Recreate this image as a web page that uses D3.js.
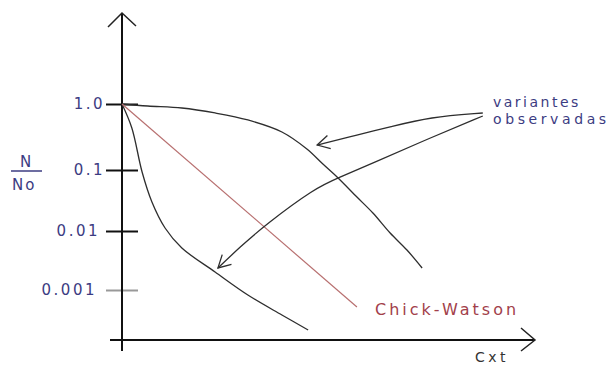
<!DOCTYPE html>
<html><head><meta charset="utf-8">
<script src="https://cdn.jsdelivr.net/npm/d3@7"></script>
<style>body{margin:0;background:#fff}svg{display:block}</style>
</head><body>
<svg id="c" width="613" height="367"></svg>
<script>
// Data (x in Cxt units 0..100, y = N/No)
const tickValues = [1, 0.1, 0.01, 0.001];
const tickLabels = ["1.0", "0.1", "0.01", "0.001"];
const upperX = [0, 6.3, 14.6, 22.7, 30.7, 39.0, 45.1, 49.0, 52.7, 57.3, 61.2, 65.4, 69.5, 73.2];
const upperY = [1, 0.933, 0.870, 0.731, 0.573, 0.377, 0.208, 0.123, 0.074, 0.036, 0.0197, 0.00925, 0.00476, 0.00236];
const lowerX = [0, 2.4, 4.9, 7.3, 10.5, 14.6, 22.7, 30.7, 39.0, 45.4];
const lowerY = [1, 0.433, 0.0928, 0.0299, 0.0112, 0.00515, 0.00202, 0.000823, 0.000377, 0.00021];
const cwX = [0, 57.3];
const cwY = [1, 0.000515];
const arrow1X = [88, 75.1, 65.4, 57.3, 47.6];
const arrow1Y = [0.731, 0.635, 0.449, 0.339, 0.239];
const arrow2X = [88, 75.1, 61.2, 52.7, 47.1, 34.9, 28.8, 23.4];
const arrow2Y = [0.658, 0.305, 0.1277, 0.074, 0.0507, 0.01254, 0.00536, 0.00236];

const svg = d3.select("#c");
const x = d3.scaleLinear().domain([0, 100]).range([122, 532]);
const y = d3.scaleLog().domain([1, 0.1, 0.01, 0.001]).range([104, 170, 231, 290]);

const blue = "#3c3c82";
const lineCol = "#2e2e2e";
const font = "DejaVu Sans, sans-serif";

// y ticks via axis
const yAxis = d3.axisLeft(y).tickValues(tickValues)
  .tickFormat((d, i) => tickLabels[i]).tickSize(32).tickPadding(1);
const ga = svg.append("g").attr("transform", "translate(138,0)").call(yAxis);
ga.select(".domain").remove();
ga.selectAll(".tick line").attr("stroke", (d, i) => i === 3 ? "#999" : "#111").attr("stroke-width", 2);
ga.selectAll(".tick text").attr("fill", blue).attr("font-family", font)
  .attr("font-size", 15).attr("letter-spacing", 2.5)
  .attr("dx", (d, i) => [0, 0, -5, -8][i]);

// axes lines
svg.append("line").attr("x1", 122).attr("x2", 122).attr("y1", 14).attr("y2", 351)
  .attr("stroke", "#111").attr("stroke-width", 2);
svg.append("line").attr("x1", 110).attr("x2", 534).attr("y1", 340).attr("y2", 340)
  .attr("stroke", "#111").attr("stroke-width", 2);
svg.append("path").attr("d", "M108,27L122,13L136,26").attr("fill", "none").attr("stroke", "#222").attr("stroke-width", 1.5);
svg.append("path").attr("d", "M521,328L535,340L521,351").attr("fill", "none").attr("stroke", "#222").attr("stroke-width", 1.5);

// curves
const zip = (a, b) => a.map((v, i) => [v, b[i]]);
const curveLine = d3.line().x(d => x(d[0])).y(d => y(d[1])).curve(d3.curveCatmullRom.alpha(0.5));
svg.append("path").attr("d", curveLine(zip(upperX, upperY))).attr("fill", "none")
  .attr("stroke", lineCol).attr("stroke-width", 1.3);
svg.append("path").attr("d", curveLine(zip(lowerX, lowerY)))
  .attr("fill", "none").attr("stroke", lineCol).attr("stroke-width", 1.3);
svg.append("path").attr("d", d3.line().x(d => x(d[0])).y(d => y(d[1]))(zip(cwX, cwY)))
  .attr("fill", "none").attr("stroke", "#b87070").attr("stroke-width", 1.2);

// annotation arrows
function arrow(xs, ys) {
  const pts = zip(xs, ys).map(d => [x(d[0]), y(d[1])]);
  svg.append("path").attr("d", d3.line().curve(d3.curveBasis)(pts)).attr("fill", "none")
    .attr("stroke", lineCol).attr("stroke-width", 1.3);
  const p = pts[pts.length - 1];
  const q = pts[pts.length - 2];
  const ang = Math.atan2(q[1] - p[1], q[0] - p[0]);
  const L = 14, a = 0.5;
  const h1 = [p[0] + L * Math.cos(ang + a), p[1] + L * Math.sin(ang + a)];
  const h2 = [p[0] + L * Math.cos(ang - a), p[1] + L * Math.sin(ang - a)];
  svg.append("path").attr("d", `M${h1}L${p}L${h2}`).attr("fill", "none")
    .attr("stroke", lineCol).attr("stroke-width", 1.3);
}
arrow(arrow1X, arrow1Y);
arrow(arrow2X, arrow2Y);

// texts
svg.append("text").attr("x", 493).attr("y", 107).text("variantes")
  .attr("fill", blue).attr("font-family", font).attr("font-size", 14).attr("letter-spacing", 2.5);
svg.append("text").attr("x", 493).attr("y", 124).text("observadas")
  .attr("fill", blue).attr("font-family", font).attr("font-size", 14).attr("letter-spacing", 3.6);
svg.append("text").attr("x", 375).attr("y", 315).text("Chick-Watson")
  .attr("fill", "#a2404a").attr("font-family", font).attr("font-size", 16).attr("letter-spacing", 3);
svg.append("text").attr("x", 475).attr("y", 362).text("Cxt")
  .attr("fill", "#333").attr("font-family", font).attr("font-size", 14).attr("letter-spacing", 3.5);
svg.append("text").attr("x", 20).attr("y", 167).text("N")
  .attr("fill", blue).attr("font-family", font).attr("font-size", 15);
svg.append("line").attr("x1", 11).attr("x2", 42).attr("y1", 171).attr("y2", 171)
  .attr("stroke", blue).attr("stroke-width", 1.5);
svg.append("text").attr("x", 12).attr("y", 190).text("No")
  .attr("fill", blue).attr("font-family", font).attr("font-size", 15).attr("letter-spacing", 2);
</script>
</body></html>
